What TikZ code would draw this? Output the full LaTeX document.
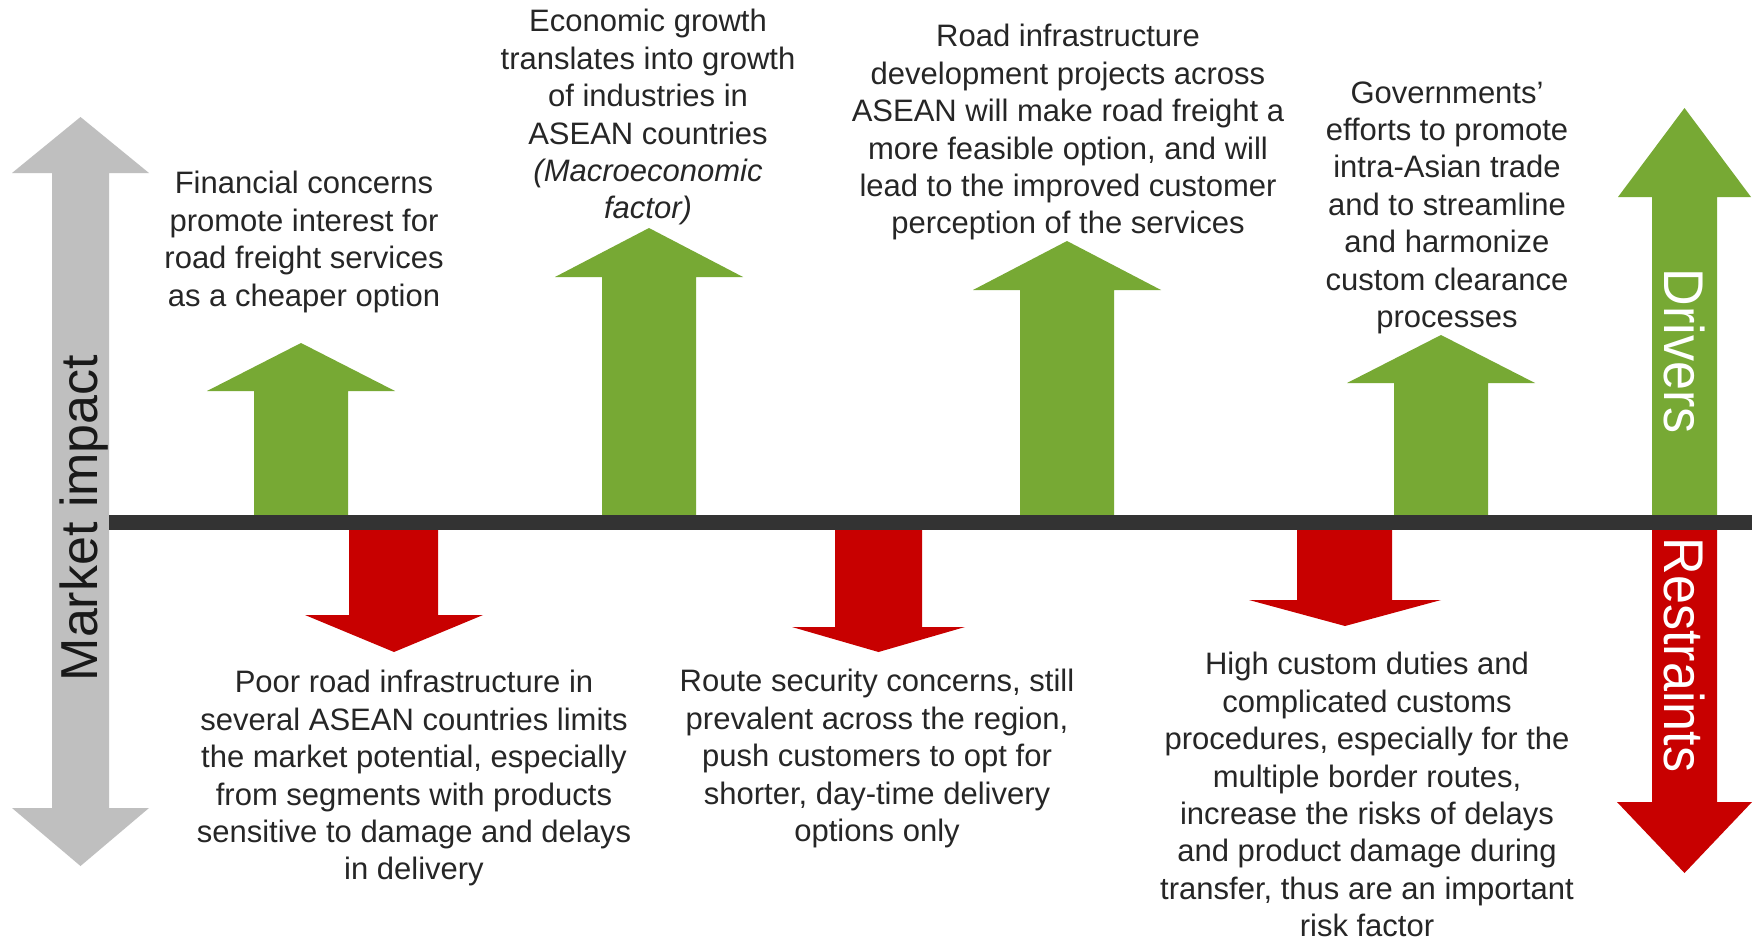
\documentclass[tikz,border=0pt]{standalone}
\usepackage{fontspec}
\setmainfont{Liberation Sans}
\newfontfamily\narrowsans[FakeStretch=0.93]{Liberation Sans}
\definecolor{drvgreen}{RGB}{119,169,52}
\definecolor{rstred}{RGB}{200,0,0}
\definecolor{axisgray}{RGB}{191,191,191}
\definecolor{bardark}{RGB}{51,51,51}
\definecolor{txtgray}{RGB}{38,38,38}
\begin{document}
\begin{tikzpicture}[x=0.5pt,y=-0.5pt,
  desc/.style={font=\fontsize{15.5}{18.7}\selectfont, text=txtgray, align=center, inner sep=0pt, anchor=north},
  greenarr/.style={fill=drvgreen, draw=none},
  redarr/.style={fill=rstred, draw=none},
  grayarr/.style={fill=axisgray, draw=none},
  sidelabel/.style={font=\narrowsans\fontsize{28}{32}\selectfont, text=white, inner sep=0pt, anchor=base, rotate=-90}
]
\useasboundingbox (0,0) rectangle (1757,937);
\fill[white] (0,0) rectangle (1757,937);

% gray double arrow (Market impact)
\fill[grayarr] (52,173) -- (12,173) -- (80.5,117) -- (149,173) -- (109,173)
  -- (109,808) -- (149,808) -- (80.5,866) -- (12,808) -- (52,808) -- cycle;
\node[rotate=90, anchor=base, inner sep=0pt, font=\fontsize{26}{30}\selectfont, text=black!90] (mkt) at (97,518) {Market impact};

% right Drivers / Restraints arrows
\fill[greenarr] (1652,522) -- (1652,197) -- (1618,197) -- (1684.5,108) -- (1751,197) -- (1717,197) -- (1717,522) -- cycle;
\fill[redarr] (1652,522) -- (1652,802) -- (1617,802) -- (1684.5,873) -- (1752,802) -- (1717,802) -- (1717,522) -- cycle;
\node[sidelabel] (drv) at (1664,351) {Drivers};
\node[sidelabel] (rst) at (1664,655) {Restraints};

% green driver arrows
\fill[greenarr] (254,522) -- (254,391) -- (207,391) -- (301,343) -- (395,391) -- (348,391) -- (348,522) -- cycle;
\fill[greenarr] (602,522) -- (602,277) -- (555,277) -- (649,228) -- (743,277) -- (696,277) -- (696,522) -- cycle;
\fill[greenarr] (1020,522) -- (1020,290) -- (973,290) -- (1067,241) -- (1161,290) -- (1114,290) -- (1114,522) -- cycle;
\fill[greenarr] (1394,522) -- (1394,383) -- (1347,383) -- (1441,335) -- (1535,383) -- (1488,383) -- (1488,522) -- cycle;

% red restraint arrows
\fill[redarr] (349,522) -- (349,615) -- (305,615) -- (394,652) -- (483,615) -- (438,615) -- (438,522) -- cycle;
\fill[redarr] (835,522) -- (835,627) -- (792,627) -- (878.5,652) -- (965,627) -- (922,627) -- (922,522) -- cycle;
\fill[redarr] (1297,522) -- (1297,600) -- (1249,600) -- (1345,626) -- (1441,600) -- (1392,600) -- (1392,522) -- cycle;

% horizontal axis bar
\fill[bardark] (109,515) rectangle (1752,530);

% driver texts
\node[desc] (d1) at (304,171) {Financial concerns\\promote interest for\\road freight services\\as a cheaper option};
\node[desc] (d2) at (648,9) {Economic growth\\translates into growth\\of industries in\\ASEAN countries\\\textit{(Macroeconomic}\\\textit{factor)}};
\node[desc] (d3) at (1068,24) {Road infrastructure\\development projects across\\ASEAN will make road freight a\\more feasible option, and will\\lead to the improved customer\\perception of the services};
\node[desc] (d4) at (1447,81) {Governments’\\efforts to promote\\intra-Asian trade\\and to streamline\\and harmonize\\custom clearance\\processes};

% restraint texts
\node[desc] (r1) at (414,670) {Poor road infrastructure in\\several ASEAN countries limits\\the market potential, especially\\from segments with products\\sensitive to damage and delays\\in delivery};
\node[desc] (r2) at (877,669) {Route security concerns, still\\prevalent across the region,\\push customers to opt for\\shorter, day-time delivery\\options only};
\node[desc] (r3) at (1367,652) {High custom duties and\\complicated customs\\procedures, especially for the\\multiple border routes,\\increase the risks of delays\\and product damage during\\transfer, thus are an important\\risk factor};
\end{tikzpicture}
\end{document}
